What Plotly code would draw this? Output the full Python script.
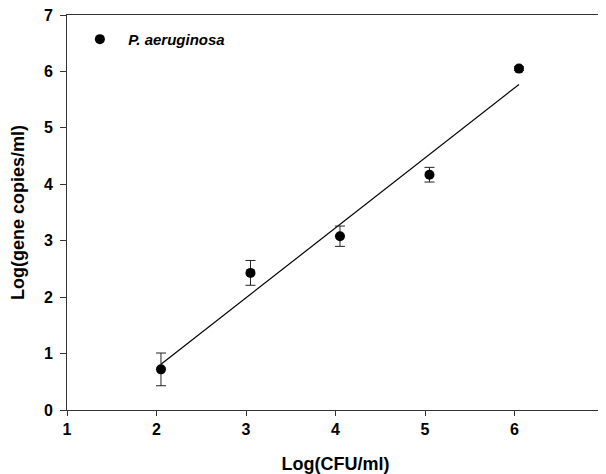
import numpy as np
import plotly.graph_objects as go

log_cfu = [2.05, 3.05, 4.05, 5.05, 6.05]
log_gene = [0.72, 2.43, 3.08, 4.17, 6.05]
err = [0.29, 0.22, 0.18, 0.13, 0.03]
x_ticks = [1, 2, 3, 4, 5, 6, 7]
y_ticks = [0, 1, 2, 3, 4, 5, 6, 7]

slope, intercept = np.polyfit(log_cfu, log_gene, 1)
fit_x = [log_cfu[0], log_cfu[-1]]
fit_y = [slope * v + intercept for v in fit_x]

fig = go.Figure()
fig.add_trace(go.Scatter(x=fit_x, y=fit_y, mode="lines",
                         line=dict(color="black", width=1.2), showlegend=False))
fig.add_trace(go.Scatter(
    x=log_cfu, y=log_gene, mode="markers",
    name="&nbsp;&nbsp;<b><i>P. aeruginosa</i></b>",
    marker=dict(color="black", size=10),
    error_y=dict(type="data", array=err, color="#222", thickness=1, width=5),
))

font = "Liberation Sans, Arial, sans-serif"
axis_common = dict(showgrid=False, zeroline=False, showline=True, linecolor="#333",
                   linewidth=1, mirror=True, ticks="outside", automargin=False,
                   ticklabeloverflow="allow",
                   tickcolor="#333", tickfont=dict(family=font, size=16, color="black"))
# page body has an 8px default margin, so the figure is offset by 8px
fig.update_layout(
    width=598, height=466,
    margin=dict(l=59, r=2, t=7, b=64),
    plot_bgcolor="white", paper_bgcolor="white",
    font=dict(family=font, color="black"),
    xaxis=dict(range=[1, 7], tickvals=x_ticks, ticktext=[f"<b>{v}</b>" for v in x_ticks],
               ticklen=5, ticklabelstandoff=0,
               title=dict(text="<b>Log(CFU/ml)</b>", font=dict(size=18), standoff=25),
               **axis_common),
    yaxis=dict(range=[0, 7], tickvals=y_ticks, ticktext=[f"<b>{v}</b>" for v in y_ticks],
               ticklen=6, ticklabelstandoff=4,
               title=dict(text="<b>Log(gene copies/ml)</b>", font=dict(size=18), standoff=16),
               **axis_common),
    legend=dict(x=0.024, y=0.98, xanchor="left", yanchor="top",
                bgcolor="rgba(0,0,0,0)", font=dict(family=font, size=15)),
    showlegend=True,
)
fig.write_html("out.html")
